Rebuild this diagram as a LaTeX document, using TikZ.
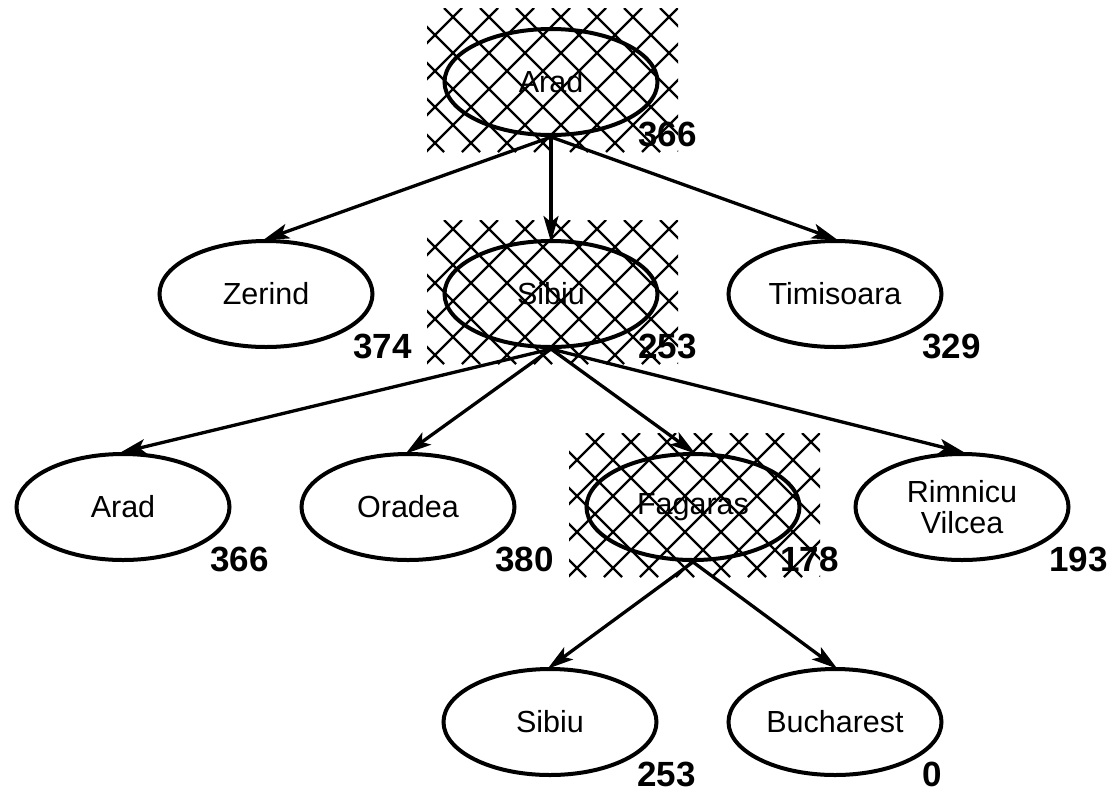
\documentclass[tikz,border=0pt]{standalone}
\usepackage{fontspec}
\setmainfont{Liberation Sans}
\usetikzlibrary{shapes.geometric,arrows.meta,calc}
\tikzset{
 city/.style={ellipse, draw, line width=4pt, minimum width=213pt, minimum height=106pt, inner sep=0pt, font=\fontsize{30.5}{31}\selectfont, align=center},
 cost/.style={anchor=base west, font=\fontsize{35}{35}\selectfont\bfseries, inner sep=0pt},
 link/.style={line width=3.3pt, -{Stealth[length=26pt,width=15pt,inset=6pt]}, shorten >=-3pt},
 hatchline/.style={line width=2.2pt}
}
\newcommand\hatchat[2]{%
 \begin{scope}[shift={({#1-124},{#2-74})}]
  \clip (0,0) rectangle (251,144);
  \foreach \k in {-6,...,12}{%
   \draw[hatchline] ({17+36*\k},0) -- ++(144,144);
   \draw[hatchline] ({35+36*\k},0) -- ++(-144,144);
  }
 \end{scope}}
\begin{document}
\begin{tikzpicture}[x=1pt,y=-1pt]
\useasboundingbox (0,0) rectangle (1114,796);
\hatchat{551}{82}
\hatchat{551}{294}
\hatchat{693}{507}
% level 1
\node[city] (arad) at (551,82) {Arad};
% level 2
\node[city] (zer) at (266,294) {Zerind};
\node[city] (sib) at (551,294) {Sibiu};
\node[city] (tim) at (835,294) {Timisoara};
% level 3
\node[city] (arad2) at (123,507) {Arad};
\node[city] (ora) at (408,507) {Oradea};
\node[city] (fag) at (693,507) {Fagaras};
\node[city] (rim) at (962,507) {Rimnicu\\Vilcea};
% level 4
\node[city] (sib2) at (550,722) {Sibiu};
\node[city] (buc) at (835,722) {Bucharest};
% edges
\draw[link] (arad.south) -- (zer.north);
\draw[link] (arad.south) -- (sib.north);
\draw[link] (arad.south) -- (tim.north);
\draw[link] (sib.south) -- (arad2.north);
\draw[link] (sib.south) -- (ora.north);
\draw[link] (sib.south) -- (fag.north);
\draw[link] (sib.south) -- (rim.north);
\draw[link] (fag.south) -- (sib2.north);
\draw[link] (fag.south) -- (buc.north);
% costs
\node[cost] (c1) at ($(arad.center)+(87,64)$) {366};
\node[cost] (c2) at ($(zer.center)+(87,64)$) {374};
\node[cost] (c3) at ($(sib.center)+(87,64)$) {253};
\node[cost] (c4) at ($(tim.center)+(87,64)$) {329};
\node[cost] (c5) at ($(arad2.center)+(87,64)$) {366};
\node[cost] (c6) at ($(ora.center)+(87,64)$) {380};
\node[cost] (c7) at ($(fag.center)+(87,64)$) {178};
\node[cost] (c8) at ($(rim.center)+(87,64)$) {193};
\node[cost] (c9) at ($(sib2.center)+(87,64)$) {253};
\node[cost] (c10) at ($(buc.center)+(87,64)$) {0};
\end{tikzpicture}
\end{document}
